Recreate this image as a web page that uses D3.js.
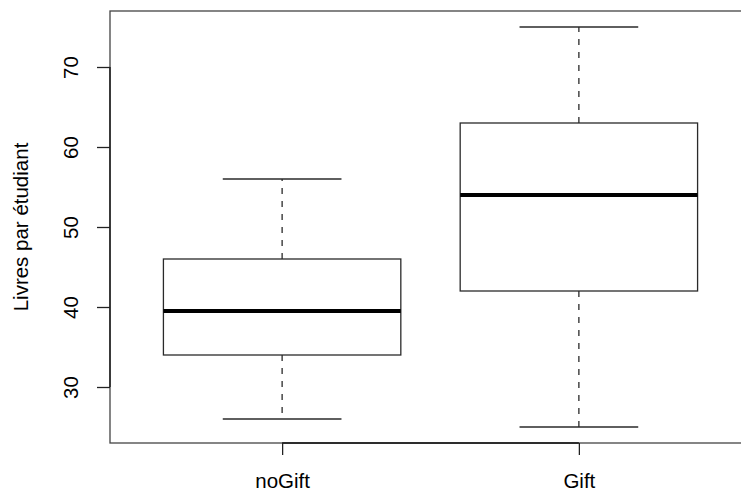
<!DOCTYPE html>
<html>
<head>
<meta charset="utf-8">
<script src="https://cdn.jsdelivr.net/npm/d3@7"></script>
<style>
  html, body { margin: 0; padding: 0; background: #fff; }
  svg { display: block; }
  text { font-family: "Liberation Sans", Arial, Helvetica, sans-serif; fill: #000; }
</style>
</head>
<body>
<svg id="chart" width="741" height="493"></svg>
<script>
// Books per student, two groups
const groups = ["noGift", "Gift"];
const whiskerLow = [26, 25];
const quartile1 = [34, 42];
const medians = [39.5, 54];
const quartile3 = [46, 63];
const whiskerHigh = [56, 75];
const yTicks = [30, 40, 50, 60, 70];
const yTitle = "Livres par étudiant";

const width = 741, height = 493;
const plot = { left: 110, right: 751, top: 11, bottom: 443 };
const fontSize = "20.5px";

const svg = d3.select("#chart");

// Box positions 1..n, padded by 4% like base R
const x = d3.scaleLinear().domain([0.42, 2.58]).range([plot.left, plot.right]);
const y = d3.scaleLinear().domain([23, 77]).range([plot.bottom, plot.top]);

const boxHalf = 0.4, capHalf = 0.2;
const lineCol = "#2a2a2a";

const data = groups.map((g, i) => ({
  name: g, pos: i + 1,
  lo: whiskerLow[i], q1: quartile1[i], med: medians[i], q3: quartile3[i], hi: whiskerHigh[i]
}));

const boxes = svg.append("g").selectAll("g").data(data).join("g");

// dashed whiskers
boxes.append("line")
  .attr("x1", d => x(d.pos)).attr("x2", d => x(d.pos))
  .attr("y1", d => y(d.q3)).attr("y2", d => y(d.hi))
  .attr("stroke", lineCol).attr("stroke-width", 1.3).attr("stroke-dasharray", "6,7");
boxes.append("line")
  .attr("x1", d => x(d.pos)).attr("x2", d => x(d.pos))
  .attr("y1", d => y(d.q1)).attr("y2", d => y(d.lo))
  .attr("stroke", lineCol).attr("stroke-width", 1.3).attr("stroke-dasharray", "6,7");

// whisker caps
boxes.selectAll("line.cap").data(d => [d.lo, d.hi].map(v => ({ pos: d.pos, v })))
  .join("line").attr("class", "cap")
  .attr("x1", d => x(d.pos - capHalf)).attr("x2", d => x(d.pos + capHalf))
  .attr("y1", d => y(d.v)).attr("y2", d => y(d.v))
  .attr("stroke", lineCol).attr("stroke-width", 1.3);

// boxes
boxes.append("rect")
  .attr("x", d => x(d.pos - boxHalf))
  .attr("width", d => x(d.pos + boxHalf) - x(d.pos - boxHalf))
  .attr("y", d => y(d.q3))
  .attr("height", d => y(d.q1) - y(d.q3))
  .attr("fill", "none").attr("stroke", lineCol).attr("stroke-width", 1.3);

// medians
boxes.append("line")
  .attr("x1", d => x(d.pos - boxHalf)).attr("x2", d => x(d.pos + boxHalf))
  .attr("y1", d => y(d.med)).attr("y2", d => y(d.med))
  .attr("stroke", "#000").attr("stroke-width", 3.8);

// plot frame
svg.append("rect")
  .attr("x", plot.left).attr("y", plot.top)
  .attr("width", plot.right - plot.left).attr("height", plot.bottom - plot.top)
  .attr("fill", "none").attr("stroke", "#444").attr("stroke-width", 1.3);

// y axis
const yAxis = svg.append("g")
  .attr("transform", `translate(${plot.left},0)`)
  .call(d3.axisLeft(y).tickValues(yTicks).tickSize(13).tickPadding(0).tickSizeOuter(0));
yAxis.select(".domain").attr("d", `M0,${y(yTicks[0])}V${y(yTicks[yTicks.length - 1])}`)
  .attr("stroke", "#111").attr("stroke-width", 1.3);
yAxis.selectAll(".tick line").attr("stroke", "#222").attr("stroke-width", 1.3);
yAxis.selectAll(".tick text")
  .attr("x", null).attr("dy", null)
  .attr("transform", "translate(-32.5,0) rotate(-90)")
  .attr("text-anchor", "middle")
  .style("font-size", fontSize)
  .style("font-family", "'Liberation Sans', Arial, sans-serif")
  .attr("fill", "#000");

// x axis
const xAxis = svg.append("g")
  .attr("transform", `translate(0,${plot.bottom})`)
  .call(d3.axisBottom(x).tickValues(data.map(d => d.pos)).tickFormat((d, i) => groups[i])
    .tickSize(12).tickPadding(0).tickSizeOuter(0));
xAxis.select(".domain").attr("d", `M${x(1)},0H${x(groups.length)}`)
  .attr("stroke", "#111").attr("stroke-width", 1.3);
xAxis.selectAll(".tick line").attr("stroke", "#222").attr("stroke-width", 1.3);
xAxis.selectAll(".tick text")
  .attr("y", 44.5).attr("dy", null)
  .attr("text-anchor", "middle")
  .style("font-size", fontSize)
  .style("font-family", "'Liberation Sans', Arial, sans-serif")
  .attr("fill", "#000");

// y title
svg.append("text")
  .attr("transform", `translate(27.5,${(plot.top + plot.bottom) / 2}) rotate(-90)`)
  .attr("text-anchor", "middle")
  .style("font-size", fontSize)
  .text(yTitle);
</script>
</body>
</html>
